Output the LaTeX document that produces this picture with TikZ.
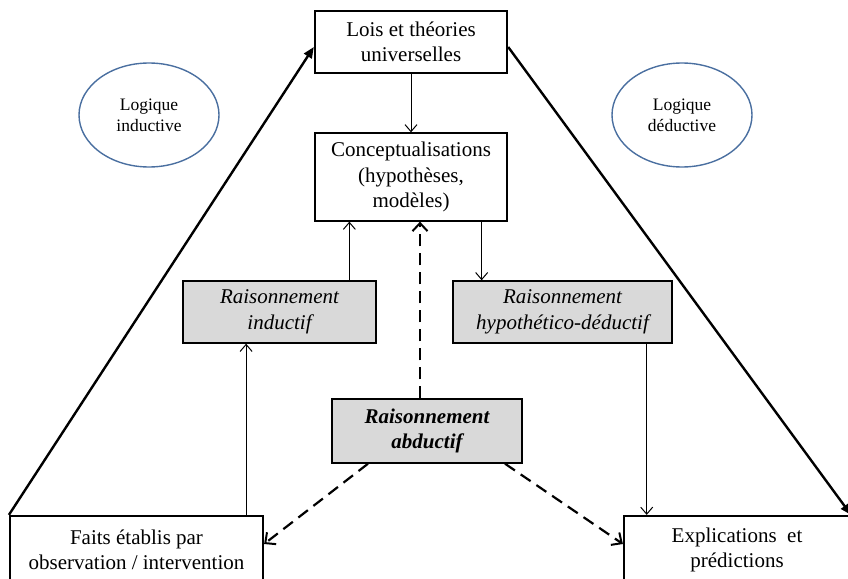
\documentclass[tikz,border=0pt]{standalone}
\usepackage{fontspec}
\setmainfont{Liberation Serif}
\usepackage{xcolor}
\definecolor{ink}{HTML}{000000}
\definecolor{shade}{HTML}{D9D9D9}
\definecolor{oval}{HTML}{4A6FA0}
\usepackage{tikz}
\usetikzlibrary{arrows.meta, shapes.geometric}
\tikzset{
  box/.style={draw=ink, align=center, inner sep=0pt, line width=1.3pt, text=ink,
    font=\fontsize{21}{25.5}\selectfont},
  bigbox/.style={box, line width=2.4pt},
  reason/.style={box, fill=shade, line width=1.4pt, font=\fontsize{21}{25.5}\selectfont\itshape},
  logic/.style={ellipse, draw=oval, line width=1.4pt, align=center, inner sep=0pt,
    minimum width=140pt, minimum height=104pt, font=\fontsize{17.5}{21}\selectfont},
  flow/.style={-{Straight Barb[length=7pt, width=12pt]}, line width=1pt, color=ink},
  guess/.style={-{Straight Barb[length=8pt, width=15pt, line width=2pt]}, line width=2.2pt,
    dash pattern=on 12pt off 7pt, color=ink},
  side/.style={-{Triangle[length=11pt, width=9pt]}, line width=2.4pt, color=ink},
}

\begin{document}
\begin{tikzpicture}[x=1pt, y=-1pt]
  \useasboundingbox (0,0) rectangle (848,578);
  \clip (0,0) rectangle (848,578);
  % top and middle boxes
  \node[bigbox, minimum width=192pt, minimum height=62pt] (lois) at (411,42)
    {Lois et théories\\universelles};
  \node[box, minimum width=192pt, minimum height=88pt] (concept) at (411,177)
    {Conceptualisations\\(hypothèses,\\modèles)};
  \node[reason, minimum width=193pt, minimum height=62pt] (induc) at (279.5,312)
    {Raisonnement\\inductif};
  \node[reason, minimum width=219pt, minimum height=62pt] (hypo) at (562.5,312)
    {Raisonnement\\hypothético-déductif};
  \node[reason, minimum width=190pt, minimum height=64pt,
    font=\fontsize{21}{25.5}\selectfont\bfseries\itshape] (abd) at (427,431)
    {Raisonnement\\abductif};
  % bottom corners, cut by the frame
  \node[bigbox, line width=2.2pt, minimum width=253pt, minimum height=68pt] (faits) at (136.5,550)
    {Faits établis par\\observation / intervention};
  \node[bigbox, line width=2.2pt, minimum width=226pt, minimum height=68pt] (expl) at (737,550)
    {Explications\ \ et\\prédictions};
  % the two logics
  \node[logic] (induclog) at (149,115) {Logique\\inductive};
  \node[logic] (deduclog) at (682,115) {Logique\\déductive};
  % triangle sides
  \draw[side] (faits.north west) -- ([yshift=-5pt]lois.west);
  \draw[side] ([yshift=-5pt]lois.east) -- (expl.north east);
  % plain arrows
  \draw[flow] (lois) -- (concept);
  \draw[flow] ([xshift=35pt]concept.south west |- induc.north) -- ([xshift=35pt]concept.south west);
  \draw[flow] ([xshift=-26pt]concept.south east) -- ([xshift=-26pt]concept.south east |- hypo.north);
  \draw[flow] ([xshift=-18pt]faits.north east) -- ([xshift=-18pt]faits.north east |- induc.south);
  \draw[flow] ([xshift=-26pt]hypo.south east) -- ([xshift=-26pt]hypo.south east |- expl.north);
  % abduction, dashed
  \draw[guess] ([xshift=-7pt]abd.north) -- ([xshift=-7pt]abd.north |- concept.south);
  \draw[guess] ([xshift=-59pt]abd.south) -- ([yshift=6pt]faits.east);
  \draw[guess] ([xshift=78pt]abd.south) -- ([yshift=6pt]expl.west);
\end{tikzpicture}
\end{document}
